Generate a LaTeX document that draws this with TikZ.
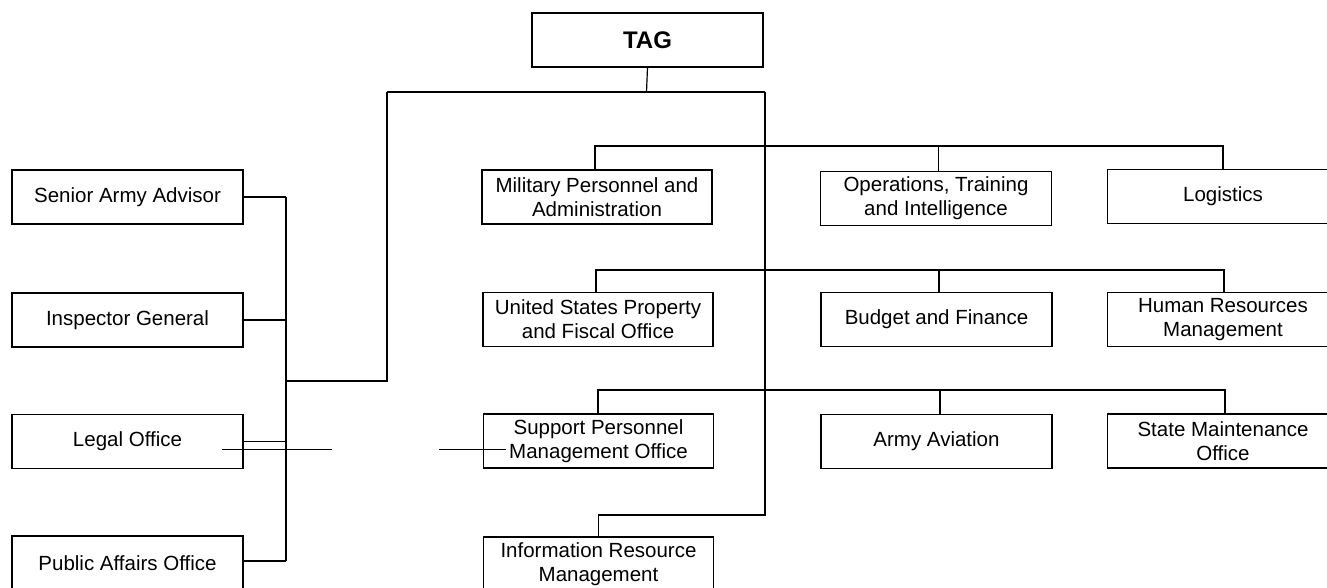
\documentclass[tikz,border=0pt]{standalone}
\usepackage{fontspec}
\setmainfont{Liberation Sans}
\begin{document}
\begin{tikzpicture}[x=1pt,y=-1pt,
  orgbox/.style={draw,line width=1.1pt,minimum width=231pt,minimum height=54pt,
    inner sep=0pt,align=center,font=\fontsize{20.5}{24}\selectfont},
  link/.style={line width=1.2pt},
  stray/.style={line width=0.7pt}]
\useasboundingbox (0,0) rectangle (1327,588);
\clip (0,0) rectangle (1327,588);
% top
\node[orgbox,font=\fontsize{24}{28}\selectfont\bfseries] (tag) at (647.5,40) {TAG};
% left column
\node[orgbox] (saa) at (127.5,197) {Senior Army Advisor};
\node[orgbox] (ig)  at (127.5,320) {Inspector General};
\node[orgbox] (lo)  at (127.5,441.5) {Legal Office};
\node[orgbox] (pao) at (127.5,563) {Public Affairs Office};
% right grid
\node[orgbox,minimum width=230pt] (mpa) at (597,197) {Military Personnel and\\Administration};
\node[orgbox] (oti) at (936,198.5) {Operations, Training\\and Intelligence};
\node[orgbox] (log) at (1223,196.5) {Logistics};
\node[orgbox,minimum width=230pt] (usp) at (598,319.5) {United States Property\\and Fiscal Office};
\node[orgbox] (bf)  at (936.5,319.5) {Budget and Finance};
\node[orgbox] (hrm) at (1223,319.5) {Human Resources\\Management};
\node[orgbox,minimum width=230pt] (spm) at (598.5,441) {Support Personnel\\Management Office};
\node[orgbox] (aa)  at (936.5,441.5) {Army Aviation};
\node[orgbox] (smo) at (1223,441) {State Maintenance\\Office};
\node[orgbox,minimum width=230pt] (irm) at (598.5,564) {Information Resource\\Management};
% junction coordinates
\coordinate (tj) at (646.5,92);
\coordinate (lt) at (387,92);
\coordinate (rt) at (765,92);
\coordinate (lb) at (387,381);
\coordinate (lbar) at (286,381);
\coordinate (ltop) at (286,197);
\coordinate (lbot) at (286,561);
\coordinate (rb) at (765,515);
\coordinate (b1l) at (595,146);
\coordinate (b1r) at (1223,146);
\coordinate (b2l) at (596,270);
\coordinate (b2r) at (1224,270);
\coordinate (b3l) at (598,390);
\coordinate (b3r) at (1225,390);
% trunk from TAG
\draw[link] (tag.south) -- (tj);
\draw[link] (lt) -- (rt);
\draw[link] (lt) -- (lb) -- (lbar);
\draw[link] (rt) -- (rb) -| (irm.north);
% left bar and staff links
\draw[link] (ltop) -- (lbot);
\draw[link,line width=1.6pt] (saa.east) -- (saa.east -| ltop);
\draw[link] (ig.east) -- (ig.east -| ltop);
\draw[link] (lo.east) -- (lo.east -| ltop);
\draw[link] (pao.east |- lbot) -- (lbot);
% buses
\draw[link] (mpa.north -| b1l) -- (b1l) -- (b1r) -- (b1r |- log.north);
\draw[link] (oti.north -| 938.5,0) -- (938.5,146);
\draw[link] (usp.north -| b2l) -- (b2l) -- (b2r) -- (b2r |- hrm.north);
\draw[link] (bf.north -| 939,0) -- (939,270);
\draw[link] (spm.north -| b3l) -- (b3l) -- (b3r) -- (b3r |- smo.north);
\draw[link] (aa.north -| 940,0) -- (940,390);
% stray thin line fragments
\coordinate (s1a) at (222,449);
\coordinate (s1b) at (332,449);
\coordinate (s2a) at (439,449);
\coordinate (s2b) at (506,449);
\draw[stray] (s1a) -- (s1b);
\draw[stray] (s2a) -- (s2b);
\end{tikzpicture}
\end{document}
